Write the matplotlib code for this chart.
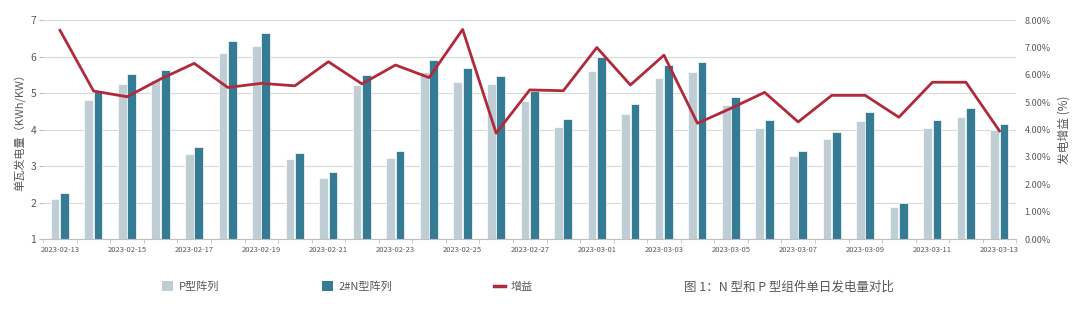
import numpy as np
import matplotlib
matplotlib.use("Agg")
import matplotlib.pyplot as plt
from matplotlib.ticker import FuncFormatter, FixedLocator
from matplotlib.lines import Line2D
from matplotlib.patches import Patch

plt.rcParams["font.family"] = ["Noto Sans CJK SC", "DejaVu Sans"]
plt.rcParams["axes.unicode_minus"] = False

dates = ["2023-02-13", "2023-02-14", "2023-02-15", "2023-02-16", "2023-02-17",
         "2023-02-18", "2023-02-19", "2023-02-20", "2023-02-21", "2023-02-22",
         "2023-02-23", "2023-02-24", "2023-02-25", "2023-02-26", "2023-02-27",
         "2023-02-28", "2023-03-01", "2023-03-02", "2023-03-03", "2023-03-04",
         "2023-03-05", "2023-03-06", "2023-03-07", "2023-03-08", "2023-03-09",
         "2023-03-10", "2023-03-11", "2023-03-12", "2023-03-13"]
p_yield = [2.09, 4.80, 5.26, 5.36, 3.32, 6.10, 6.28, 3.19, 2.66, 5.22,
           3.22, 5.59, 5.31, 5.26, 4.79, 4.06, 5.61, 4.44, 5.41, 5.59,
           4.67, 4.04, 3.28, 3.73, 4.24, 1.89, 4.04, 4.34, 3.99]
n_yield = [2.26, 5.07, 5.53, 5.63, 3.53, 6.43, 6.66, 3.36, 2.83, 5.51,
           3.42, 5.91, 5.69, 5.46, 5.07, 4.28, 5.99, 4.69, 5.77, 5.84,
           4.90, 4.27, 3.40, 3.93, 4.47, 1.98, 4.27, 4.59, 4.14]
gain = [7.63, 5.41, 5.20, 5.85, 6.42, 5.54, 5.69, 5.60, 6.48, 5.67,
        6.36, 5.90, 7.66, 3.87, 5.45, 5.42, 7.00, 5.63, 6.72, 4.23,
        4.78, 5.36, 4.28, 5.25, 5.25, 4.45, 5.73, 5.73, 3.95]

C_P = "#bfcdd5"
C_N = "#367b94"
C_LINE = "#b12a3b"
C_TXT = "#595959"
C_GRID = "#d9d9d9"

fig = plt.figure(figsize=(10.8, 3.1), dpi=100)
ax = fig.add_axes([0.040, 0.229, 0.901, 0.706])
ax2 = ax.twinx()

x = np.arange(len(dates))
w = 0.26
ax.bar(x - 0.145, np.array(p_yield) - 1, w, bottom=1, color=C_P,
       edgecolor="white", linewidth=0.5, zorder=2)
ax.bar(x + 0.135, np.array(n_yield) - 1, w, bottom=1, color=C_N,
       edgecolor="white", linewidth=0.5, zorder=2)

ax.set_xlim(-0.5, len(dates) - 0.5)
ax.set_ylim(1, 7)
ax.set_yticks(range(1, 8))
ax.grid(True, axis="y", color=C_GRID, linewidth=0.8, zorder=0)
ax.set_axisbelow(True)

ax.xaxis.set_major_locator(FixedLocator(x[::2]))
ax.set_xticklabels(dates[::2], fontsize=5.5, color=C_TXT)
ax.xaxis.set_minor_locator(FixedLocator(np.arange(-0.5, len(dates), 1.0)))
ax.tick_params(axis="x", which="major", length=0, pad=5)
ax.tick_params(axis="x", which="minor", length=3, color="#bfbfbf")
ax.tick_params(axis="y", length=3, color="#bfbfbf", labelsize=7.5,
               labelcolor=C_TXT, pad=2)

for s in ["top", "right", "left"]:
    ax.spines[s].set_visible(False)
    ax2.spines[s].set_visible(False)
ax.spines["bottom"].set_color("#bfbfbf")
ax2.spines["bottom"].set_visible(False)

ax.set_ylabel("单瓦发电量（KWh/KW）", fontsize=8, color=C_TXT, labelpad=3)

ax2.plot(x, gain, color=C_LINE, linewidth=2, zorder=3)
ax2.set_ylim(0, 8)
ax2.set_yticks(range(0, 9))
ax2.yaxis.set_major_formatter(FuncFormatter(lambda v, _: f"{v:.2f}%"))
ax2.tick_params(axis="y", length=0, labelsize=6.5, labelcolor=C_TXT, pad=6)
ax2.set_ylabel("发电增益 (%)", fontsize=8.5, color=C_TXT, labelpad=5)

handles = [Patch(facecolor=C_P, edgecolor="none"),
           Patch(facecolor=C_N, edgecolor="none"),
           Line2D([0], [0], color=C_LINE, linewidth=2.5)]
labels = ["P型阵列", "2#N型阵列", "增益"]
fig.legend(handles, labels, loc="center", bbox_to_anchor=(0.322, 0.075),
           ncol=3, frameon=False, fontsize=8, handlelength=1.0,
           handleheight=1.0, handletextpad=0.5, columnspacing=9.2,
           labelcolor=C_TXT)

fig.text(0.633, 0.075, "图 1：N 型和 P 型组件单日发电量对比", fontsize=9,
         color=C_TXT, va="center", ha="left")

fig.savefig("out.png", dpi=100)
